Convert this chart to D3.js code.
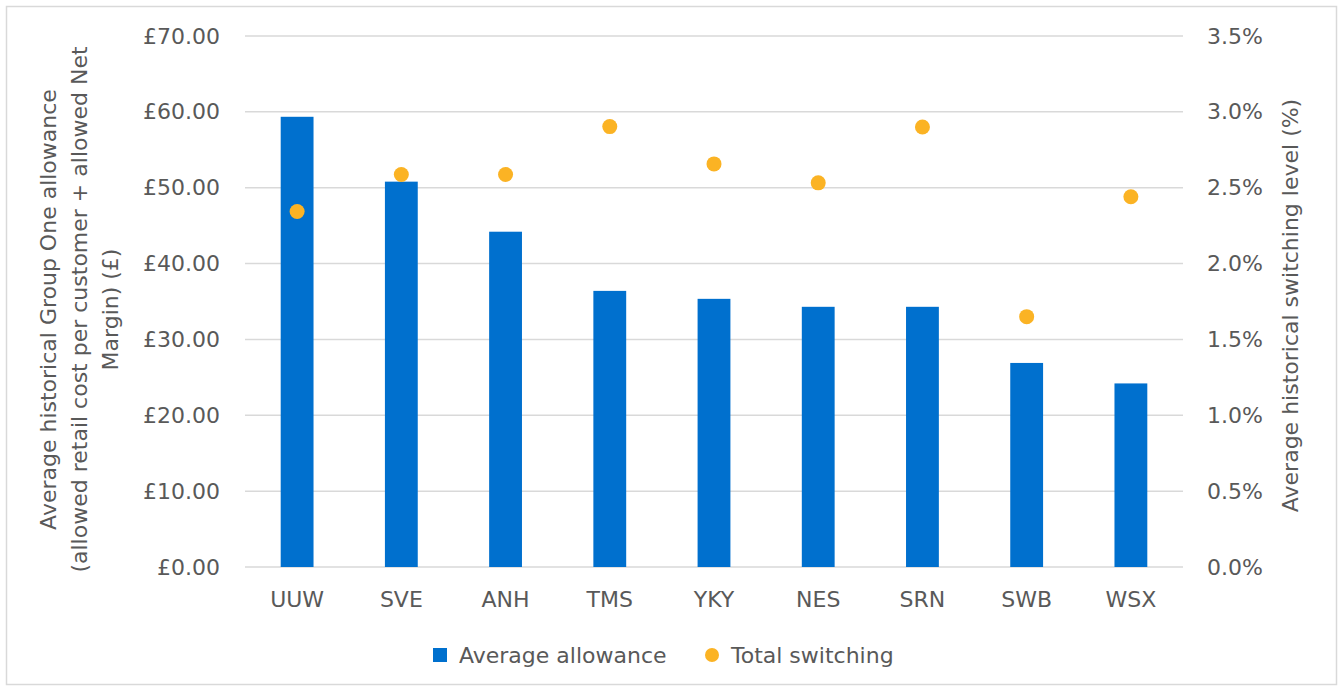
<!DOCTYPE html>
<html>
<head>
<meta charset="utf-8">
<script src="https://cdn.jsdelivr.net/npm/d3@7"></script>
<style>
  body { margin: 0; background: #fff; }
  text { font-family: "DejaVu Sans", "Noto Sans", sans-serif; fill: #595959; }
</style>
</head>
<body>
<div id="vis"></div>
<script>
// data
const companies = ['UUW', 'SVE', 'ANH', 'TMS', 'YKY', 'NES', 'SRN', 'SWB', 'WSX'];
const allowance = [59.35, 50.8, 44.2, 36.4, 35.35, 34.3, 34.3, 26.9, 24.2];   // £
const switching = [2.343, 2.587, 2.587, 2.903, 2.657, 2.532, 2.90, 1.65, 2.44]; // %
const leftTicks = [0, 10, 20, 30, 40, 50, 60, 70];
const rightTicks = [0, 0.5, 1.0, 1.5, 2.0, 2.5, 3.0, 3.5];

const W = 1343, H = 691;
let margin = { top: 36, left: 245, right: 160, bottom: 124 },
  width = W - margin.left - margin.right,
  height = H - margin.top - margin.bottom;

const barColor = '#0070ce', dotColor = '#fbb324';
const fs = '22px';

let svg = d3.select('#vis')
  .append('svg')
  .attr('width', W)
  .attr('height', H);

// outer border
svg.append('rect')
  .attr('x', 6.5).attr('y', 6.5)
  .attr('width', W - 13).attr('height', H - 13)
  .attr('fill', '#fff')
  .attr('stroke', '#d9d9d9')
  .attr('stroke-width', 1.5);

let g = svg.append('g')
  .attr('transform', `translate(${margin.left},${margin.top})`);

const x = d3.scaleBand()
  .domain(companies)
  .range([0, width])
  .paddingInner(0.685)
  .paddingOuter(0.3425);

const y = d3.scaleLinear().domain([0, 70]).range([height, 0]);
const y2 = d3.scaleLinear().domain([0, 3.5]).range([height, 0]);

// gridlines
g.selectAll('.grid')
  .data(leftTicks)
  .join('line')
    .attr('x1', 0).attr('x2', width)
    .attr('y1', d => y(d)).attr('y2', d => y(d))
    .attr('stroke', '#d9d9d9')
    .attr('stroke-width', 1.5);

// left axis
let yAxis = g.append('g')
  .call(d3.axisLeft(y).tickValues(leftTicks).tickSize(0).tickPadding(25)
    .tickFormat(d => '£' + d3.format('.2f')(d)));
yAxis.select('.domain').remove();
yAxis.selectAll('text').style('font-size', fs).style('fill', '#595959');

// right axis
let yAxis2 = g.append('g')
  .attr('transform', `translate(${width},0)`)
  .call(d3.axisRight(y2).tickValues(rightTicks).tickSize(0).tickPadding(24)
    .tickFormat(d => d3.format('.1f')(d) + '%'));
yAxis2.select('.domain').remove();
yAxis2.selectAll('text').style('font-size', fs).style('fill', '#595959');

// bottom axis
let xAxis = g.append('g')
  .attr('transform', `translate(0,${height})`)
  .call(d3.axisBottom(x).tickSize(0).tickPadding(24));
xAxis.select('.domain').remove();
xAxis.selectAll('text').style('font-size', fs).style('fill', '#595959');

// bars
g.selectAll('.bar')
  .data(companies)
  .join('rect')
    .attr('x', d => x(d))
    .attr('y', (d, i) => y(allowance[i]))
    .attr('width', x.bandwidth())
    .attr('height', (d, i) => height - y(allowance[i]))
    .attr('fill', barColor);

// switching dots
g.selectAll('.dot')
  .data(companies)
  .join('circle')
    .attr('cx', d => x(d) + x.bandwidth() / 2)
    .attr('cy', (d, i) => y2(switching[i]))
    .attr('r', 7.5)
    .attr('fill', dotColor);

// left axis title (three lines)
let leftTitle = svg.append('text')
  .attr('transform', `translate(48,${margin.top + height / 2 + 8}) rotate(-90)`)
  .attr('text-anchor', 'middle')
  .style('font-size', fs);
['Average historical Group One allowance',
 '(allowed retail cost per customer + allowed Net',
 'Margin) (£)'].forEach((t, i) => {
  leftTitle.append('tspan')
    .attr('x', 0)
    .attr('dy', i === 0 ? '0.35em' : 31)
    .text(t);
});

// right axis title
svg.append('text')
  .attr('transform', `translate(1290,${margin.top + height / 2 + 4}) rotate(-90)`)
  .attr('text-anchor', 'middle')
  .attr('dy', '0.35em')
  .style('font-size', fs)
  .text('Average historical switching level (%)');

// legend
let legend = svg.append('g').attr('transform', 'translate(0,655)');
legend.append('rect')
  .attr('x', 433).attr('y', -7)
  .attr('width', 14).attr('height', 14)
  .attr('fill', barColor);
legend.append('text')
  .attr('x', 459).attr('dy', '0.35em')
  .style('font-size', fs)
  .text('Average allowance');
legend.append('circle')
  .attr('cx', 712).attr('cy', 0).attr('r', 7)
  .attr('fill', dotColor);
legend.append('text')
  .attr('x', 731).attr('dy', '0.35em')
  .style('font-size', fs)
  .text('Total switching');
</script>
</body>
</html>
